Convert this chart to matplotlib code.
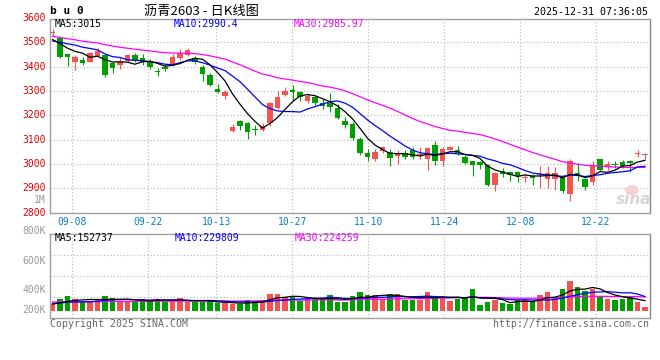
import matplotlib
matplotlib.use('Agg')
import matplotlib.pyplot as plt
from matplotlib.patches import Ellipse
import numpy as np
import pandas as pd

# ------------ Data --------------------------------------
# daily candles 2025-09-03 .. 2025-12-31, index 0..79
open_ = [3539, 3518, 3452, 3420, 3427, 3420, 3445, 3449, 3414, 3405,
         3422, 3446, 3435, 3422, 3381, 3397, 3409, 3433, 3449, 3436,
         3399, 3366, 3307, 3280, 3136, 3177, 3167, 3144, 3140, 3170,
         3231, 3285, 3302, 3297, 3259, 3274, 3252, 3249, 3229, 3177,
         3164, 3104, 3046, 3022, 3052, 3049, 3032, 3045, 3056, 3035,
         3022, 3076, 3011, 3059, 3059, 3030, 3011, 3009, 2997, 2915,
         2973, 2966, 2966, 2941, 2952, 2953, 2938, 2940, 2948, 2876,
         2962, 2937, 2924, 3020, 2990, 3001, 3007, 3013, 3041, 3036]
high = [3553, 3522, 3453, 3449, 3437, 3460, 3476, 3452, 3420, 3438,
        3450, 3455, 3450, 3430, 3393, 3410, 3451, 3472, 3477, 3444,
        3407, 3373, 3327, 3303, 3163, 3179, 3171, 3160, 3168, 3256,
        3298, 3317, 3325, 3298, 3287, 3280, 3266, 3293, 3245, 3194,
        3174, 3112, 3063, 3062, 3074, 3060, 3056, 3058, 3071, 3071,
        3070, 3093, 3070, 3075, 3073, 3038, 3014, 3014, 3001, 2968,
        2984, 2970, 2970, 2960, 2960, 2990, 2990, 2988, 2955, 3020,
        3005, 2944, 3013, 3022, 3012, 3013, 3018, 3017, 3057, 3045]
low = [3524, 3434, 3404, 3386, 3407, 3418, 3444, 3359, 3375, 3390,
       3420, 3418, 3405, 3390, 3363, 3382, 3404, 3425, 3444, 3410,
       3342, 3318, 3293, 3268, 3130, 3140, 3104, 3120, 3134, 3155,
       3226, 3277, 3260, 3259, 3249, 3242, 3224, 3215, 3184, 3148,
       3100, 3035, 3013, 3011, 3044, 2993, 2998, 3019, 3022, 3020,
       2975, 2995, 2990, 3056, 3038, 3000, 2950, 2980, 2911, 2888,
       2945, 2932, 2928, 2927, 2912, 2903, 2903, 2895, 2879, 2850,
       2930, 2893, 2915, 2972, 2976, 2984, 2982, 2968, 3027, 3020]
close = [3540, 3441, 3437, 3440, 3416, 3455, 3463, 3367, 3392, 3420,
         3446, 3422, 3418, 3400, 3378, 3388, 3440, 3454, 3468, 3418,
         3370, 3325, 3297, 3294, 3153, 3157, 3132, 3138, 3155, 3251,
         3275, 3300, 3295, 3275, 3279, 3252, 3238, 3233, 3190, 3160,
         3106, 3043, 3030, 3049, 3068, 3026, 3040, 3027, 3028, 3042,
         3065, 3011, 3062, 3071, 3044, 3004, 2997, 2997, 2915, 2964,
         2960, 2954, 2950, 2948, 2941, 2960, 2963, 2962, 2889, 3013,
         2952, 2905, 2995, 2977, 3001, 2995, 2990, 3005, 3047, 3038]
volume = [112000, 187000, 235000, 187000, 144000, 144000, 187000, 235000, 203000, 144000,
          144000, 144000, 187000, 171000, 187000, 133000, 171000, 203000, 144000, 144000,
          144000, 155000, 117000, 117000, 107000, 107000, 171000, 155000, 171000, 267000,
          267000, 213000, 235000, 155000, 187000, 187000, 187000, 251000, 144000, 144000,
          235000, 299000, 251000, 251000, 187000, 267000, 267000, 171000, 171000, 171000,
          299000, 224000, 213000, 160000, 187000, 224000, 347000, 91000, 144000, 176000,
          128000, 102000, 176000, 176000, 144000, 251000, 299000, 213000, 347000, 475000,
          374000, 320000, 342000, 235000, 187000, 171000, 187000, 235000, 144000, 64000]

# sessions before the window, only needed so the moving averages reach the left edge
prior_close = [3590, 3585, 3578, 3582, 3570, 3575, 3568, 3572, 3566, 3562,
               3540, 3522, 3510, 3498, 3485, 3478, 3470, 3480, 3465, 3475,
               3495, 3503, 3490, 3505, 3505, 3523, 3532, 3505, 3453]
prior_volume = [150000, 160000, 140000, 155000, 145000, 165000, 150000, 140000, 160000, 150000,
                145000, 155000, 150000, 140000, 160000, 150000, 145000, 150000, 155000, 140000,
                130000, 125000, 135000, 120000, 130000, 105000, 110000, 100000, 108000]

tick_idx = [3, 13, 22, 32, 42, 52, 62, 72]
tick_labels = ['09-08', '09-22', '10-13', '10-27', '11-10', '11-24', '12-08', '12-22']
price_ticks = [2800, 2900, 3000, 3100, 3200, 3300, 3400, 3500, 3600]
vol_labels = ['800K', '600K', '400K', '200K']
vol_label_pos = [1.04, 0.68, 0.335, 0.10]   # axes fraction, sina places them unevenly

RED = '#f55252'
GREEN = '#00a000'
GRID = '#b4b4b4'
MONO = 'DejaVu Sans Mono'

W, H = 660, 360
fig = plt.figure(figsize=(6.6, 3.6), dpi=100)
fig.patch.set_facecolor('white')

def fx(x):
    return x / W

def fy(y):
    return 1 - y / H

ax = fig.add_axes([fx(50), fy(212.7), 600 / W, (212.7 - 19) / H])
vax = fig.add_axes([fx(50), fy(318.3), 600 / W, 84 / H])

o = np.array(open_)
h = np.array(high)
l = np.array(low)
c = np.array(close)
v = np.array(volume)
n = len(c)
x = np.arange(n)
col = np.where(c >= o, RED, GREEN)

# grid columns run on a slightly wider step than the candles
grid_x = [(7.59 * i - 3) / 7.5 for i in tick_idx]

for a in (ax, vax):
    a.set_xlim(-1 / 3, n - 1 / 3)
    a.set_xticks([])
    a.set_yticks([])
    for s in a.spines.values():
        s.set_color('#a0a0a0')
        s.set_linewidth(1)
    a.spines['right'].set_color('#888888')
    for g in grid_x:
        a.axvline(g, color=GRID, lw=0.8, ls=(0, (1, 2)), zorder=0)

# ------------ Price panel ---------------
ax.set_ylim(2800, 3595)
for p in price_ticks[1:-1]:
    ax.axhline(p, color=GRID, lw=0.8, ls=(0, (1, 2)), zorder=0)

ax.vlines(x, l, h, colors=col, lw=0.8, zorder=2)
body = np.maximum(np.abs(c - o), 3)
ax.bar(x, body, bottom=np.minimum(o, c), width=0.72, color=col, linewidth=0, zorder=3)

allc = pd.Series(prior_close + close, dtype=float)
k = len(prior_close)
for w, lc in [(30, '#ff00ff'), (10, '#0000ff'), (5, '#000000')]:
    ma = allc.rolling(w).mean().to_numpy()[k:]
    ax.plot(x, ma, color=lc, lw=0.9, zorder=4)

ytr = ax.get_yaxis_transform()
for p in price_ticks:
    ax.text(-4 / 600, p, str(p), transform=ytr, ha='right', va='center',
            color='#e00000', fontsize=7, family=MONO, clip_on=False)

xtr = ax.get_xaxis_transform()
for g, lab in zip(grid_x, tick_labels):
    ax.text(g, -0.047, lab, transform=xtr, ha='center', va='center',
            color='#0a7fc4', fontsize=7, family=MONO)

fig.text(fx(46), fy(200), '1M', ha='right', va='center', color='#999999',
         fontsize=7, family=MONO)

fig.text(fx(55), fy(24.3), 'MA5:3015', va='center', color='black', fontsize=7, family=MONO)
fig.text(fx(174), fy(24.3), 'MA10:2990.4', va='center', color='#0000ff', fontsize=7, family=MONO)
fig.text(fx(294), fy(24.3), 'MA30:2985.97', va='center', color='#ff00ff', fontsize=7, family=MONO)

# sina watermark
fig.patches.append(Ellipse((fx(632), fy(190)), 14 / W, 10 / H, transform=fig.transFigure,
                           facecolor='#f6d2d2', edgecolor='none', zorder=1))
fig.text(fx(651), fy(200), 'sina', ha='right', va='center', fontsize=11,
         style='italic', weight='bold', color='#d6d6d6', family='DejaVu Sans')

# ------------ Volume panel ---------------
vlo, vhi = -121600, 1222400
vax.set_ylim(vlo, vhi)
for q in (0.25, 0.5, 0.75):
    vax.axhline(vlo + q * (vhi - vlo), color=GRID, lw=0.8, ls=(0, (1, 2)), zorder=0)

vax.bar(x, v, width=0.75, color=col, linewidth=0, zorder=2)
allv = pd.Series(prior_volume + volume, dtype=float)
for w, lc in [(30, '#ff00ff'), (10, '#0000ff'), (5, '#000000')]:
    ma = allv.rolling(w).mean().to_numpy()[k:]
    vax.plot(x, ma, color=lc, lw=0.9, zorder=4)

for lab, yp in zip(vol_labels, vol_label_pos):
    vax.text(-4 / 600, yp, lab, transform=vax.transAxes, ha='right', va='center',
             color='#999999', fontsize=7, family=MONO, clip_on=False)

fig.text(fx(55), fy(238.3), 'MA5:152737', va='center', color='black', fontsize=7, family=MONO)
fig.text(fx(175), fy(238.3), 'MA10:229809', va='center', color='#0000ff', fontsize=7, family=MONO)
fig.text(fx(295), fy(238.3), 'MA30:224259', va='center', color='#ff00ff', fontsize=7, family=MONO)

# ------------ Header / footer ---------------
fig.text(fx(50), fy(11), 'b u 0', va='center', fontsize=8, weight='bold', family=MONO)
fig.text(fx(201), fy(11), '沥青2603 - 日K线图', ha='center', va='center', fontsize=9.5,
         family=['Noto Sans CJK SC', 'DejaVu Sans'])
fig.text(fx(648), fy(12), '2025-12-31 07:36:05', ha='right', va='center', fontsize=7.2, family=MONO)
fig.text(fx(50), fy(324), 'Copyright 2025 SINA.COM', va='center', color='#666666',
         fontsize=7.1, family=MONO)
fig.text(fx(649), fy(324), 'http://finance.sina.com.cn', ha='right', va='center',
         color='#666666', fontsize=7.1, family=MONO)

fig.savefig('out.png', dpi=100)
